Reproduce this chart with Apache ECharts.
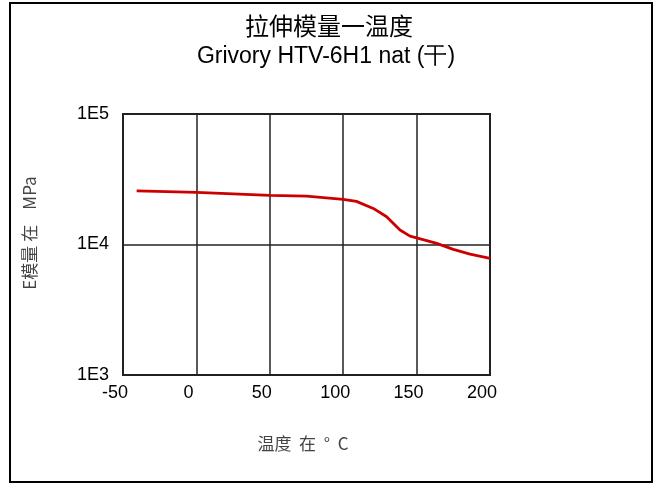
<!DOCTYPE html>
<html>
<head>
<meta charset="utf-8">
<script src="https://cdn.jsdelivr.net/npm/echarts@6/dist/echarts.min.js"></script>
<style>html,body{margin:0;padding:0;background:#fff}#c{width:658px;height:484px}</style>
</head>
<body>
<div id="c"></div>
<script>
var temperature = [-40.7, 0, 50, 75, 100, 109, 120.5, 129.6, 138.7, 145.5, 150, 163.7, 175, 186.4, 200];
var modulus = [25800, 25100, 23800, 23500, 22200, 21400, 18900, 16300, 12900, 11600, 11250, 10200, 9170, 8450, 7830];
var xTicks = [-50, 0, 50, 100, 150, 200];
var yTickLabels = {1000: '1E3', 10000: '1E4', 100000: '1E5'};
var titleText = '拉伸模量一温度';
var subtitleText = 'Grivory HTV-6H1 nat (干)';
var xName = '温度  在  °  C';
var yName = 'E模量 在    MPa';

var chart = echarts.init(document.getElementById('c'));
var pts = temperature.map(function (t, i) { return [t, modulus[i]]; });
var cjk = '"Noto Sans CJK SC", sans-serif';
var lat = '"Liberation Sans", Arial, sans-serif';
chart.setOption({
  animation: false,
  backgroundColor: '#fff',
  graphic: [
    {type: 'rect', shape: {x: 10, y: 3, width: 642, height: 479},
     style: {fill: 'none', stroke: '#000', lineWidth: 2}},
    {type: 'text', x: 329, y: 26, style: {text: titleText, fontFamily: cjk, fontSize: 24,
      fill: '#000', align: 'center', verticalAlign: 'middle'}},
    {type: 'text', x: 326, y: 57, style: {text: subtitleText, fontFamily: lat, fontSize: 23,
      fill: '#000', align: 'center', verticalAlign: 'middle'}},
    {type: 'text', x: 303, y: 444, style: {text: xName, fontFamily: cjk, fontSize: 17,
      fill: '#444', align: 'center', verticalAlign: 'middle'}},
    {type: 'text', x: 30, y: 233, rotation: Math.PI / 2, style: {text: yName, fontFamily: cjk, fontSize: 17,
      fill: '#444', align: 'center', verticalAlign: 'middle'}}
  ],
  grid: {left: 123, top: 114, right: 168, bottom: 109, show: true, borderColor: '#222', borderWidth: 2},
  xAxis: {
    type: 'value', min: -50, max: 200, interval: 50,
    axisLine: {show: false}, axisTick: {show: false},
    axisLabel: {fontFamily: lat, fontSize: 18, color: '#000', margin: 9, padding: [0, 16, 0, 0],
      formatter: function (v) { return xTicks.indexOf(v) >= 0 ? String(v) : ''; }},
    splitLine: {show: true, lineStyle: {color: '#222', width: 1.5}}
  },
  yAxis: {
    type: 'log', logBase: 10, min: 1000, max: 100000,
    axisLine: {show: false}, axisTick: {show: false}, minorTick: {show: false},
    axisLabel: {fontFamily: lat, fontSize: 18, color: '#000', margin: 14,
      formatter: function (v) { return yTickLabels[Math.round(v)] || ''; }},
    splitLine: {show: true, lineStyle: {color: '#222', width: 1.5}}
  },
  series: [{
    type: 'line', data: pts, showSymbol: false, smooth: false,
    lineStyle: {color: '#cc0000', width: 2.8}
  }]
});
</script>
</body>
</html>
